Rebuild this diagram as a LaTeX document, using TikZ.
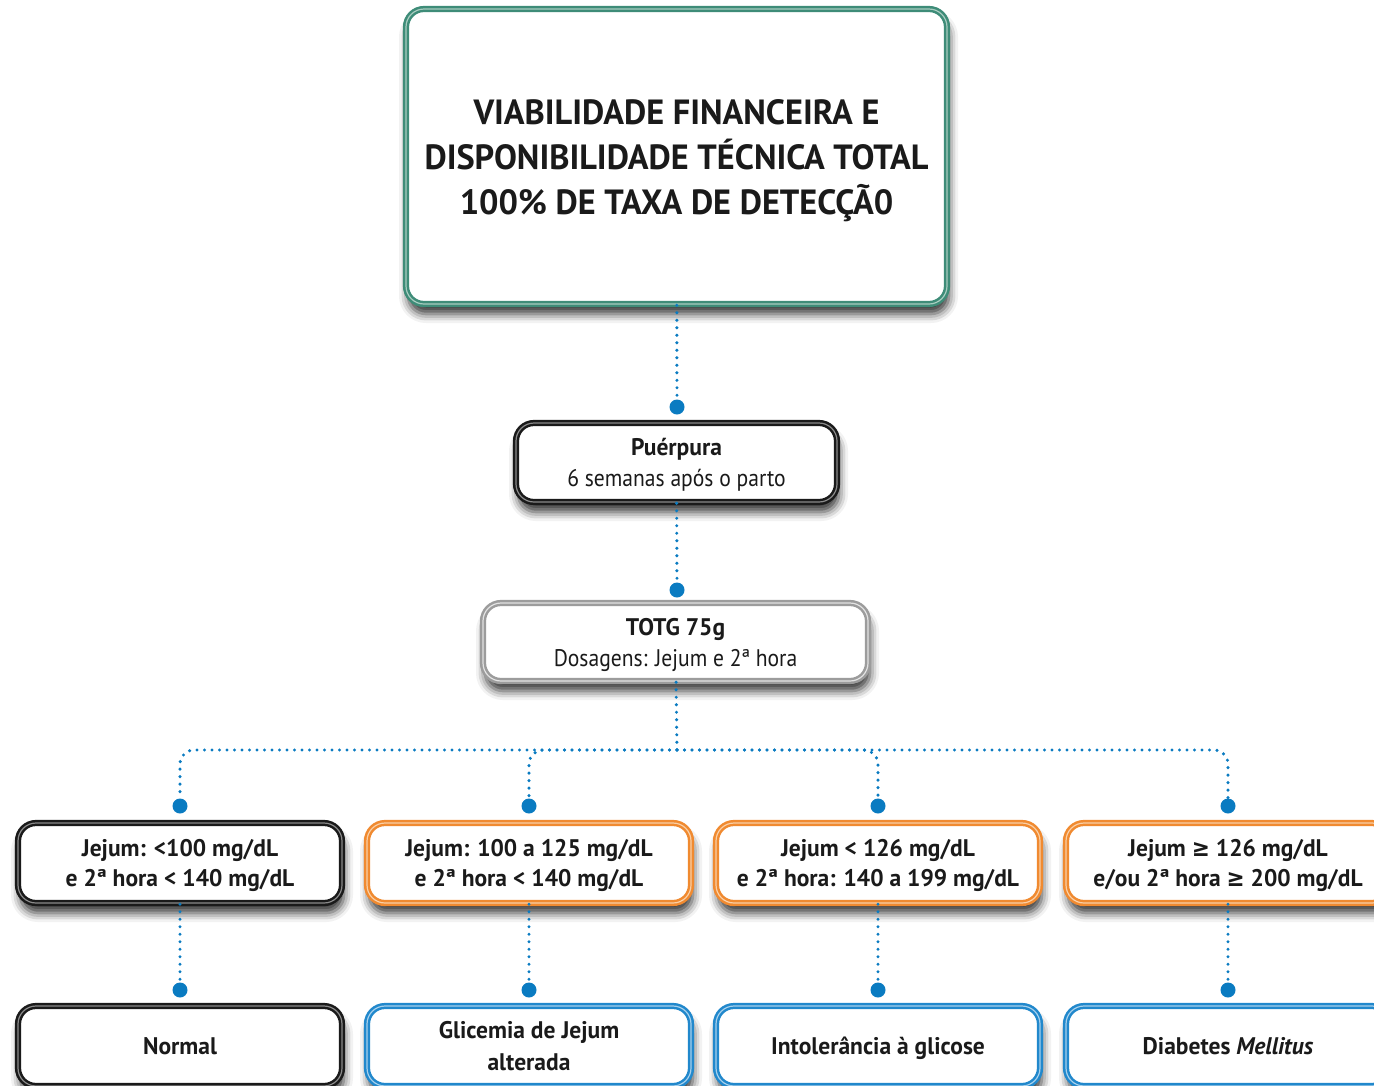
\documentclass[tikz,border=0pt]{standalone}
\usepackage{fontspec}
\setmainfont{PT Sans}[FakeStretch=0.9,
  BoldFeatures={FakeStretch=0.98},
  BoldItalicFeatures={FakeStretch=0.98}]
\newfontfamily\symbolfont{DejaVu Sans}[FakeStretch=0.9]
\newcommand{\geqsym}{{\symbolfont\bfseries ≥}}
\usetikzlibrary{shadows.blur}

\definecolor{ink}{HTML}{1A1A1A}
\definecolor{frameTeal}{HTML}{3E8C78}
\definecolor{frameTealLight}{HTML}{A8CCC0}
\definecolor{frameOrange}{HTML}{F08A30}
\definecolor{frameOrangeLight}{HTML}{F9CFA6}
\definecolor{frameBlue}{HTML}{2188CC}
\definecolor{frameBlueLight}{HTML}{A6D0EC}
\definecolor{frameGray}{HTML}{9C9C9C}
\definecolor{frameGrayLight}{HTML}{E2E2E2}
\definecolor{frameBlackLight}{HTML}{8A8A8A}
\definecolor{linkBlue}{HTML}{0A7BC1}

\tikzset{
  box/.style={rounded corners=18pt, fill=white, line width=2.5pt,
    double distance=1.2pt, align=center, text=ink, inner sep=0pt,
    text depth=0pt,
    blur shadow={shadow xshift=2pt, shadow yshift=-10pt,
      shadow blur radius=9pt, shadow opacity=80}},
  tealbox/.style={box, draw=frameTeal, double=frameTealLight},
  blackbox/.style={box, draw=ink, double=frameBlackLight},
  graybox/.style={box, draw=frameGray, double=frameGrayLight},
  orangebox/.style={box, draw=frameOrange, double=frameOrangeLight},
  bluebox/.style={box, draw=frameBlue, double=frameBlueLight},
  rowbox/.style={minimum width=324pt, minimum height=80pt},
  conn/.style={draw=linkBlue, line width=3.4pt, line cap=round,
    dash pattern=on 0pt off 7.5pt},
  pin/.style={circle, fill=linkBlue, minimum size=15pt, inner sep=0pt},
  titlefont/.style={font=\fontsize{35}{45}\selectfont\bfseries},
  labelfont/.style={font=\fontsize{24}{31}\selectfont},
  boldlabel/.style={font=\fontsize{24}{30}\selectfont\bfseries},
}

\begin{document}
\begin{tikzpicture}[x=1pt, y=1pt]
  \useasboundingbox (0,0) rectangle (1374,-1085);

  % header and the two screening steps
  \node[tealbox, titlefont, minimum width=541pt, minimum height=295pt]
    (title) at (676.5,-156.5)
    {VIABILIDADE FINANCEIRA E\\DISPONIBILIDADE TÉCNICA TOTAL\\100\% DE TAXA DE DETECÇÃ0};
  \node[pin] (d0) at (677,-407) {};
  \node[blackbox, labelfont, minimum width=321pt, minimum height=79pt]
    (puer) at (676.5,-462.5)
    {\textbf{Puérpura}\\6 semanas após o parto};
  \node[pin] (d1) at (677,-590) {};
  \node[graybox, labelfont, minimum width=385pt, minimum height=78pt]
    (totg) at (675.5,-642)
    {\textbf{TOTG 75g}\\Dosagens: Jejum e 2ª hora};
  \coordinate (hub) at (677,-750);

  % criteria row
  \node[pin] (e1) at (180,-806) {};
  \node[pin] (e2) at (529,-806) {};
  \node[pin] (e3) at (878,-806) {};
  \node[pin] (e4) at (1228,-806) {};
  \node[blackbox, rowbox, boldlabel] (c1) at (180,-863)
    {Jejum: <100 mg/dL\\e 2ª hora < 140 mg/dL};
  \node[orangebox, rowbox, boldlabel] (c2) at (529,-863)
    {Jejum: 100 a 125 mg/dL\\e 2ª hora < 140 mg/dL};
  \node[orangebox, rowbox, boldlabel] (c3) at (878,-863)
    {Jejum < 126 mg/dL\\e 2ª hora: 140 a 199 mg/dL};
  \node[orangebox, rowbox, boldlabel] (c4) at (1228,-863)
    {Jejum \geqsym{} 126 mg/dL\\e/ou 2ª hora \geqsym{} 200 mg/dL};

  % outcome row
  \node[pin] (f1) at (180,-990) {};
  \node[pin] (f2) at (529,-990) {};
  \node[pin] (f3) at (878,-990) {};
  \node[pin] (f4) at (1228,-990) {};
  \node[blackbox, rowbox, boldlabel] (o1) at (180,-1046)
    {Normal};
  \node[bluebox, rowbox, boldlabel] (o2) at (529,-1046)
    {Glicemia de Jejum\\[2pt]alterada};
  \node[bluebox, rowbox, boldlabel] (o3) at (878,-1046)
    {Intolerância à glicose};
  \node[bluebox, rowbox, boldlabel] (o4) at (1228,-1046)
    {Diabetes \textit{Mellitus}};

  % dotted links
  \draw[conn] (title) -- (d0);
  \draw[conn] (puer) -- (d1);
  \draw[conn] (totg) -- (hub);
  \foreach \p in {e1,e2,e3,e4}
    \draw[conn, rounded corners=14pt] (hub) -| (\p);
  \draw[conn] (c1) -- (f1);
  \draw[conn] (c2) -- (f2);
  \draw[conn] (c3) -- (f3);
  \draw[conn] (c4) -- (f4);
\end{tikzpicture}
\end{document}
